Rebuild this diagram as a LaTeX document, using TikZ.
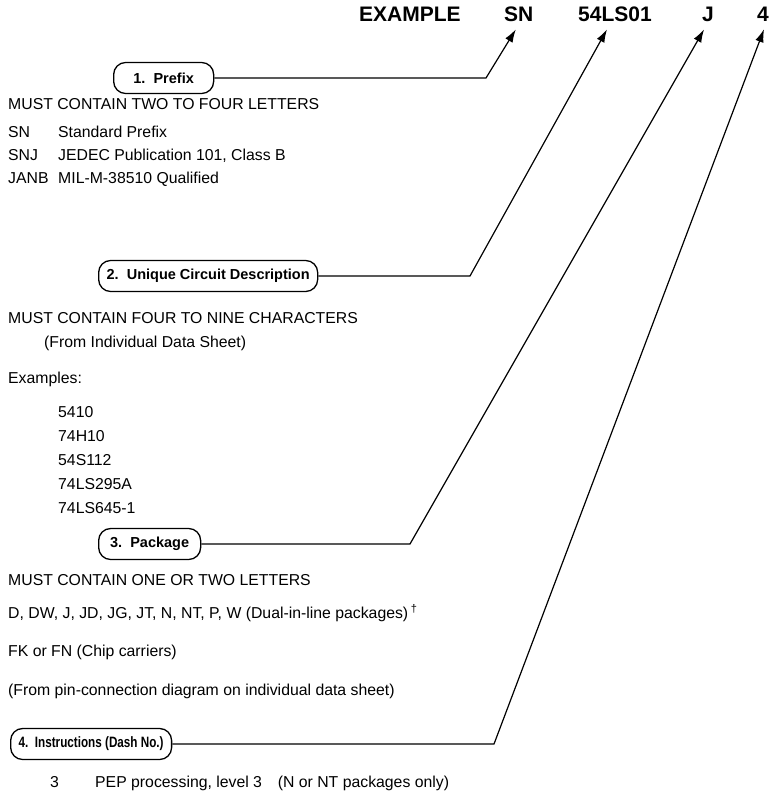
\documentclass[tikz,border=0pt]{standalone}
\usepackage{fontspec}
\setmainfont{Liberation Sans}
\newfontfamily\narrowsf[FakeStretch=0.78]{Liberation Sans}
\usetikzlibrary{arrows.meta,calc}

\begin{document}
\begin{tikzpicture}[
  x=1pt, y=-1pt,
  font=\fontsize{15.8}{19}\selectfont,
  hdr/.style={font=\bfseries\fontsize{21}{24}\selectfont, inner sep=0pt, anchor=base west},
  txt/.style={inner sep=0pt, anchor=base west},
  tag/.style={draw, line width=1.3pt, rounded corners=12pt, minimum height=31pt, inner xsep=8pt, anchor=west, font=\bfseries\fontsize{14.5}{17}\selectfont},
  arr/.style={-{Latex[length=13pt, width=8.5pt]}, line width=1.2pt}
]
\useasboundingbox (0,0) rectangle (768,792);
% ---------- example part number ----------
\node[hdr] (ex) at (359,22) {EXAMPLE};
\node[hdr] (sn) at (504,22) {SN};
\node[hdr] (circ) at (578,22) {54LS01};
\node[hdr] (pkg) at (702,22) {J};
\node[hdr] (dash) at (757,22) {4};
\coordinate (t1) at ($(sn.south)+(-3,7)$);
\coordinate (t2) at ($(circ.south)+(-8,7)$);
\coordinate (t3) at ($(pkg.south)+(-4,7)$);
\coordinate (t4) at ($(dash.south)+(1,7)$);

% ---------- 1. prefix ----------
\node[tag, minimum width=100pt] (b1) at (113,78) {1.\ \ Prefix};
\node[txt] (m1) at (8,109) {MUST CONTAIN TWO TO FOUR LETTERS};
\node[txt] (sn1) at (8,137) {SN};
\node[txt] (sn2) at (8,160) {SNJ};
\node[txt] (sn3) at (8,183) {JANB};
\node[txt] (d1) at (58,137) {Standard Prefix};
\node[txt] (d2) at (58,160) {JEDEC Publication 101, Class B};
\node[txt] (d3) at (58,183) {MIL-M-38510 Qualified};

% ---------- 2. unique circuit description ----------
\node[tag, minimum width=214pt] (b2) at (98,276) {2.\ \ Unique Circuit Description};
\node[txt] (m2) at (8,323) {MUST CONTAIN FOUR TO NINE CHARACTERS};
\node[txt] (ds) at (44,347) {(From Individual Data Sheet)};
\node[txt] (exs) at (8,383) {Examples:};
\node[txt] (e1) at (58,417) {5410};
\node[txt] (e2) at (58,441) {74H10};
\node[txt] (e3) at (58,465) {54S112};
\node[txt] (e4) at (58,489) {74LS295A};
\node[txt] (e5) at (58,513) {74LS645-1};

% ---------- 3. package ----------
\node[tag, minimum width=102pt] (b3) at (98,544) {3.\ \ Package};
\node[txt] (m3) at (8,585) {MUST CONTAIN ONE OR TWO LETTERS};
\node[txt] (p1) at (8,618) {D, DW, J, JD, JG, JT, N, NT, P, W (Dual-in-line packages)\,\textsuperscript{\textdagger}};
\node[txt] (p2) at (8,656) {FK or FN (Chip carriers)};
\node[txt] (p3) at (8,695) {(From pin-connection diagram on individual data sheet)};

% ---------- 4. instructions ----------
\node[tag, minimum width=160pt, font=\narrowsf\bfseries\fontsize{15}{18}\selectfont] (b4) at (10,744) {4.\ \ Instructions (Dash No.)};
\node[txt] (n1) at (50,787) {3};
\node[txt] (n2) at (95,787) {PEP processing, level 3\quad (N or NT packages only)};

% ---------- leaders ----------
\draw[arr] (b1.east) -- (486,78) -- (t1);
\draw[arr] (b2.east) -- (470,276) -- (t2);
\draw[arr] (b3.east) -- (410,544) -- (t3);
\draw[arr] (b4.east) -- (494,744) -- (t4);
\end{tikzpicture}
\end{document}
